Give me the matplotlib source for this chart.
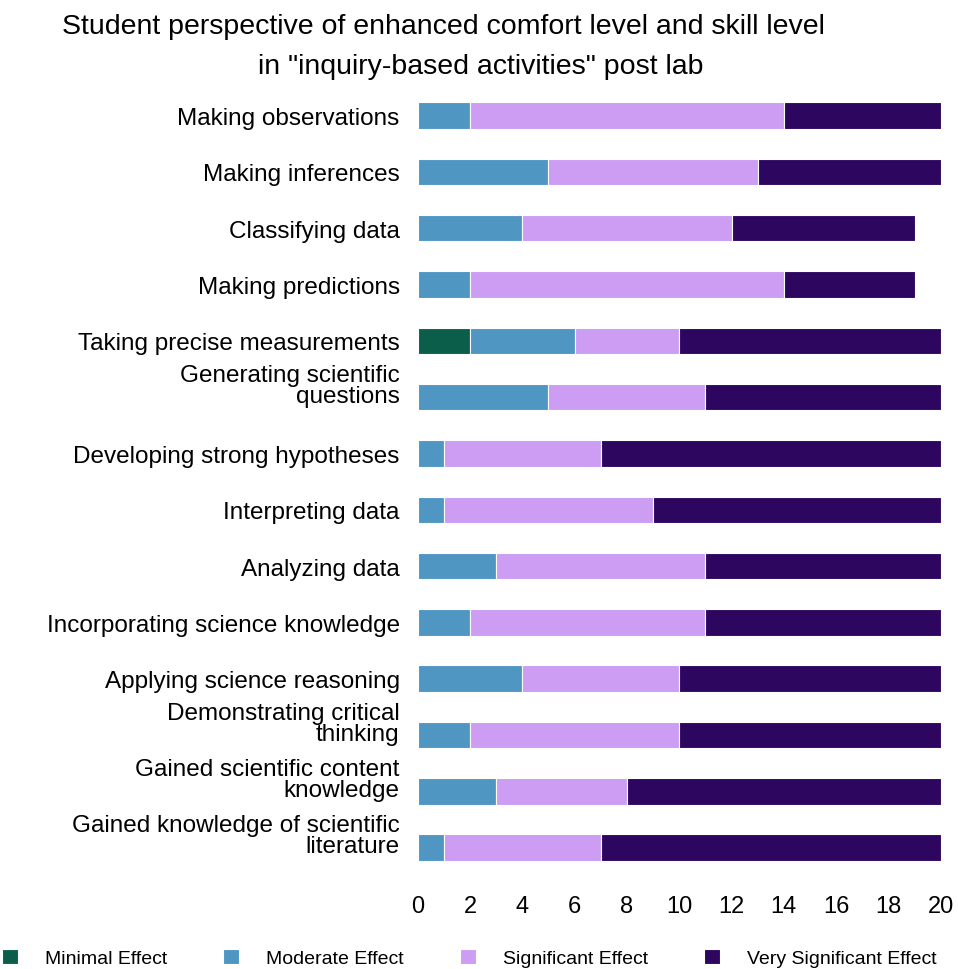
import matplotlib.pyplot as plt
from matplotlib.transforms import ScaledTranslation
import numpy as np

plt.rcParams['font.family'] = ['Liberation Sans', 'DejaVu Sans']

# categories, top to bottom
skills = [
    'Making observations',
    'Making inferences',
    'Classifying data',
    'Making predictions',
    'Taking precise measurements',
    'Generating scientific\nquestions',
    'Developing strong hypotheses',
    'Interpreting data',
    'Analyzing data',
    'Incorporating science knowledge',
    'Applying science reasoning',
    'Demonstrating critical\nthinking',
    'Gained scientific content\nknowledge',
    'Gained knowledge of scientific\nliterature',
]

minimal = [0, 0, 0, 0, 2, 0, 0, 0, 0, 0, 0, 0, 0, 0]
moderate = [2, 5, 4, 2, 4, 5, 1, 1, 3, 2, 4, 2, 3, 1]
significant = [12, 8, 8, 12, 4, 6, 6, 8, 8, 9, 6, 8, 5, 6]
very_significant = [6, 7, 7, 5, 10, 9, 13, 11, 9, 9, 10, 10, 12, 13]

series = [
    ('Minimal Effect', minimal, '#0b5e4a'),
    ('Moderate Effect', moderate, '#4f97c2'),
    ('Significant Effect', significant, '#cc9df3'),
    ('Very Significant Effect', very_significant, '#2d0660'),
]

fig = plt.figure(figsize=(9.58, 9.70), dpi=100)
ax = fig.add_axes([0.436, 0.096, 0.546, 0.813])

y = np.arange(len(skills))
left = np.zeros(len(skills))
for name, vals, color in series:
    vals = np.array(vals, dtype=float)
    ax.barh(y, vals, left=left, height=0.47, color=color, label=name,
            edgecolor='white', linewidth=0.8)
    left += vals

ax.set_ylim(len(skills) - 0.5, -0.5)
ax.set_xlim(0, 20)
ax.set_xticks(np.arange(0, 21, 2))
ax.tick_params(axis='x', labelsize=17, length=0, pad=14)
ax.tick_params(axis='y', length=0, pad=13)
ax.set_yticks(y)
ax.set_yticklabels(skills, fontsize=17.5, linespacing=0.95)
for s in ax.spines.values():
    s.set_visible(False)

# two-line labels sit with their last line on the bar
for lbl in ax.get_yticklabels():
    if '\n' in lbl.get_text():
        lbl.set_transform(lbl.get_transform() + ScaledTranslation(0, 0.14, fig.dpi_scale_trans))

fig.text(0.463, 0.972, 'Student perspective of enhanced comfort level and skill level',
         ha='center', va='center', fontsize=20.5)
fig.text(0.502, 0.931, 'in "inquiry-based activities" post lab',
         ha='center', va='center', fontsize=20.5)

fig.legend(loc='lower center', bbox_to_anchor=(0.49, -0.016), ncol=4, frameon=False,
           fontsize=14, handlelength=0.8, handleheight=0.8, columnspacing=2.9,
           handletextpad=1.4)

fig.savefig('out.png', dpi=100)
